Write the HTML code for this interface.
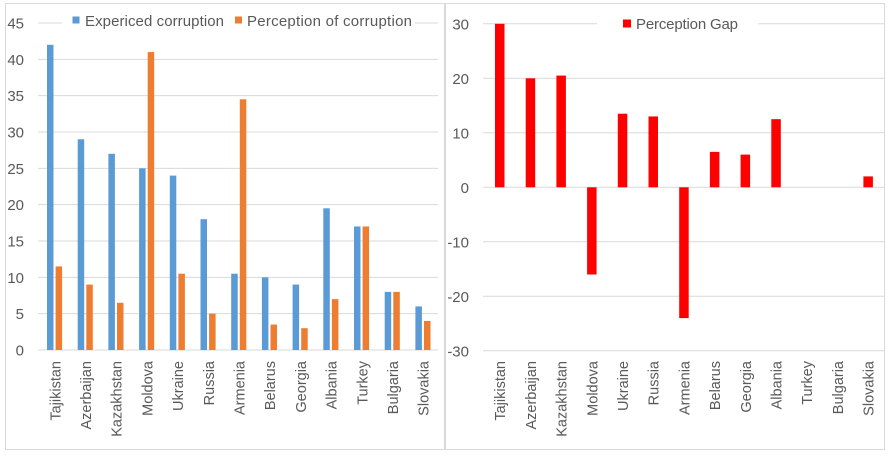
<!DOCTYPE html>
<html><head><meta charset="utf-8"><style>
body{margin:0;background:#fff;}
svg text{font-family:"Liberation Sans",sans-serif;fill:#595959;}
</style></head><body>
<svg width="891" height="456" xmlns="http://www.w3.org/2000/svg">
<rect x="0" y="0" width="891" height="456" fill="#fff"/>
<rect x="5.5" y="3.5" width="439" height="446" fill="none" stroke="#d9d9d9"/>
<rect x="445.5" y="3.5" width="439" height="446" fill="none" stroke="#d9d9d9"/>
<g id="L"></g>
<g id="R"></g>
<script>
var ns="http://www.w3.org/2000/svg";
function el(p,t,a,txt){var e=document.createElementNS(ns,t);for(var k in a)e.setAttribute(k,a[k]);if(txt!=null)e.textContent=txt;p.appendChild(e);return e;}
var names=["Tajikistan","Azerbaijan","Kazakhstan","Moldova","Ukraine","Russia","Armenia","Belarus","Georgia","Albania","Turkey","Bulgaria","Slovakia"];
var exp=[42,29,27,25,24,18,10.5,10,9,19.5,17,8,6];
var per=[11.5,9,6.5,41,10.5,5,34.5,3.5,3,7,17,8,4];
var gap=[30,20,20.5,-16,13.5,13,-24,6.5,6,12.5,0,0,2];
var L=document.getElementById("L"),R=document.getElementById("R");
var y0=350,u=327/45;
for(var v=0;v<=45;v+=5){var y=y0-v*u;
 if(v==45){el(L,"line",{x1:38,x2:62,y1:y,y2:y,stroke:"#d9d9d9"});el(L,"line",{x1:415,x2:438,y1:y,y2:y,stroke:"#d9d9d9"});}
 else el(L,"line",{x1:38,x2:438,y1:y,y2:y,stroke:"#d9d9d9"});
 el(L,"text",{x:24,y:y+5.5,"text-anchor":"end","font-size":"15"},v);}
for(var i=0;i<13;i++){var c=54.8+i*30.7;
 el(L,"rect",{x:c-7.8,y:y0-exp[i]*u,width:6.5,height:exp[i]*u,fill:"#5b9bd5"});
 el(L,"rect",{x:c+0.8,y:y0-per[i]*u,width:6.5,height:per[i]*u,fill:"#ed7d31"});
 el(L,"text",{x:0,y:0,"text-anchor":"end","font-size":"14.5",transform:"translate("+(c+5.5)+",361) rotate(-90)"},names[i]);}
el(L,"rect",{x:72.5,y:16.5,width:7,height:7,fill:"#5b9bd5"});
el(L,"text",{x:85,y:26,"font-size":"15","textLength":"139"},"Expericed corruption");
el(L,"rect",{x:235,y:16.5,width:7,height:7,fill:"#ed7d31"});
el(L,"text",{x:247,y:26,"font-size":"15","textLength":"165"},"Perception of corruption");
var z=187.3,w=5.45;
for(var v=-30;v<=30;v+=10){var y=z-v*w;
 if(v==30){el(R,"line",{x1:483,x2:597,y1:y,y2:y,stroke:"#d9d9d9"});el(R,"line",{x1:758,x2:884,y1:y,y2:y,stroke:"#d9d9d9"});}
 else el(R,"line",{x1:483,x2:884,y1:y,y2:y,stroke:"#d9d9d9"});
 el(R,"text",{x:469,y:y+5.5,"text-anchor":"end","font-size":"15"},v);}
for(var i=0;i<13;i++){var c=499.7+i*30.7,g=gap[i];
 if(g!=0)el(R,"rect",{x:c-4.7,y:g>0?z-g*w:z,width:9.5,height:Math.abs(g)*w,fill:"#ff0000"});
 el(R,"text",{x:0,y:0,"text-anchor":"end","font-size":"14.5",transform:"translate("+(c+5.5)+",361) rotate(-90)"},names[i]);}
el(R,"rect",{x:623,y:19.5,width:8,height:8,fill:"#ff0000"});
el(R,"text",{x:636,y:29,"font-size":"15","textLength":"102"},"Perception Gap");
</script>
</svg>
</body></html>
